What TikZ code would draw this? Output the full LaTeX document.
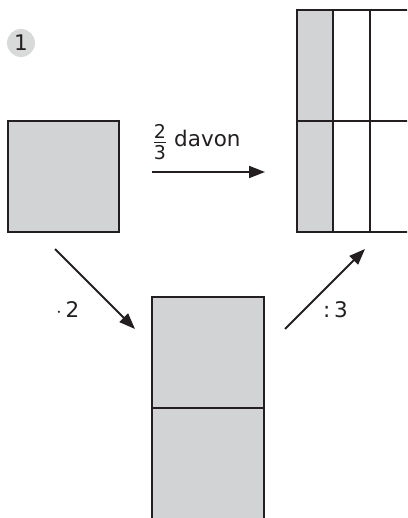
\documentclass[tikz,border=0pt]{standalone}
\usepackage{fontspec}
\setmainfont{DejaVu Sans}
\usetikzlibrary{arrows.meta}
\definecolor{fillgray}{HTML}{D1D3D4}
\definecolor{ink}{HTML}{231F20}

\begin{document}
\begin{tikzpicture}[x=1pt,y=-1pt,
  part/.style={draw=ink, line width=2.4pt},
  shaded/.style={fill=fillgray},
  move/.style={draw=ink, line width=1.8pt, -{Triangle[length=16pt,width=12pt]}},
  lbl/.style={inner sep=0pt, font=\fontsize{21.5}{24}\selectfont, text=ink}]
\useasboundingbox (0,0) rectangle (407,518);

% step number
\node[circle, fill=fillgray!85, minimum size=28pt, inner sep=0pt] (num) at (21,43) {};
\node[lbl] at (num.center) {1};

% the whole: one square
\node[part, shaded, minimum size=111pt, inner sep=0pt] (whole) at (63.5,176.5) {};

\begin{scope}
\clip (0,0) rectangle (407,518);
% doubled: two squares stacked, running off the bottom
\fill[shaded] (152,297) rectangle (264,520);
\draw[part] (152,522) -- (152,297) -- (264,297) -- (264,522);
\draw[part] (152,408) -- (264,408);

% each half cut into three columns, first column shaded
\fill[shaded] (297,10) rectangle (333,232);
\draw[part] (410,10) -- (297,10) -- (297,232) -- (410,232);
\draw[part] (297,121) -- (410,121);
\draw[part] (333,10) -- (333,232);
\draw[part] (370,10) -- (370,232);
\end{scope}

% connector end points
\coordinate (hs) at (152,172);
\coordinate (he) at (265,172);
\coordinate (ds) at (55,249);
\coordinate (de) at (135,329);
\coordinate (us) at (285,329);
\coordinate (ue) at (365,249);

\draw[move] (hs) -- (he);
\draw[move] (ds) -- (de);
\draw[move] (us) -- (ue);

% labels
\node[lbl, font=\fontsize{19}{20}\selectfont] (fnum) at (160,131.5) {2};
\node[lbl, font=\fontsize{19}{20}\selectfont] (fden) at (160,153) {3};
\draw[ink, line width=1.2pt] (154,142.5) -- (166,142.5);
\node[lbl, anchor=base west] (davon) at (174,147) {davon};
\node[lbl, anchor=base west] (times) at (56,317) {$\cdot$\,2};
\node[lbl, anchor=base west] (div) at (323,317) {:\,3};
\end{tikzpicture}
\end{document}
